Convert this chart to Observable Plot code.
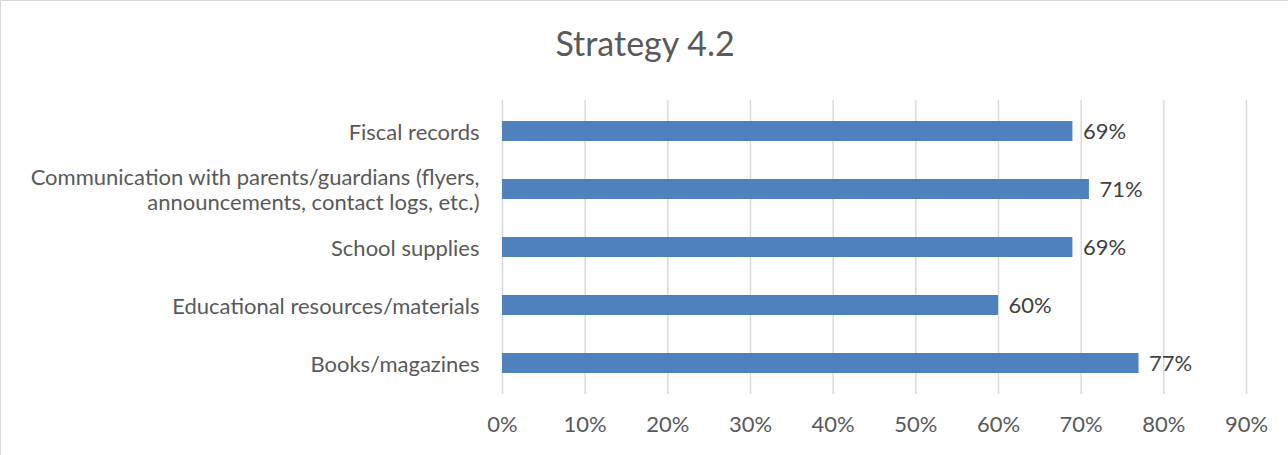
<!DOCTYPE html>
<html>
<head>
<meta charset="utf-8">
<script src="https://cdn.jsdelivr.net/npm/d3@7"></script>
<script src="https://cdn.jsdelivr.net/npm/@observablehq/plot@0.6"></script>
<style>
  html, body { margin: 0; padding: 0; background: #fff; }
  #frame { position: relative; width: 1288px; height: 455px; border-top: 1px solid #d9d9d9; border-left: 1px solid #d9d9d9; box-sizing: border-box; overflow: hidden; font-family: Lato, "Open Sans", sans-serif; }
  #title { position: absolute; left: 0; width: 1288px; top: 22px; text-align: center; font-size: 34px; color: #595959; line-height: 40px; }
  #chart { position: absolute; left: -1px; top: 79px; }
</style>
</head>
<body>
<div id="frame">
  <div id="title">Strategy 4.2</div>
  <div id="chart"></div>
</div>
<script>
const categories = [
  "Fiscal records",
  "Communication with parents/guardians (flyers,\nannouncements, contact logs, etc.)",
  "School supplies",
  "Educational resources/materials",
  "Books/magazines"
];
const values = [0.69, 0.71, 0.69, 0.60, 0.77];
const xTicks = [0, 0.1, 0.2, 0.3, 0.4, 0.5, 0.6, 0.7, 0.8, 0.9];

const data = categories.map((c, i) => ({category: c, value: values[i]}));
const fmt = d3.format(".0%");

const chart = Plot.plot({
  width: 1288,
  height: 376,
  marginTop: 20,
  marginBottom: 62,
  marginLeft: 502,
  marginRight: 42,
  style: {fontFamily: "Lato, 'Open Sans', sans-serif", fontSize: "22px", color: "#595959", background: "transparent"},
  x: {domain: [0, 0.9], ticks: xTicks, tickFormat: fmt},
  y: {domain: categories, padding: 0.65, paddingOuter: 0.65/2},
  marks: [
    Plot.gridX(xTicks, {stroke: "#d9d9d9", strokeOpacity: 1, strokeWidth: 1.5}),
    Plot.barX(data, {x: "value", y: "category", fill: "#4f81bd"}),
    Plot.text(data, {x: "value", y: "category", text: d => fmt(d.value), textAnchor: "start", dx: 10, fill: "#404040", fontSize: 22}),
    Plot.axisX({ticks: xTicks, tickFormat: fmt, tickSize: 0, tickPadding: 22, fontSize: 22, label: null, fill: "#595959"}),
    Plot.axisY({tickSize: 0, tickPadding: 23, fontSize: 22, label: null, lineHeight: 1.15, fill: "#595959"})
  ]
});
document.getElementById("chart").appendChild(chart);
</script>
</body>
</html>
